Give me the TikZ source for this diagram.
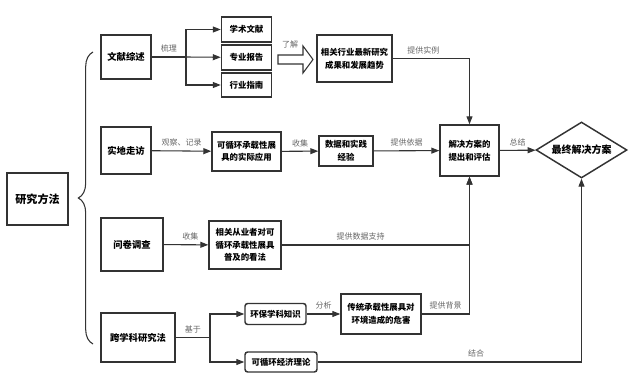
\documentclass[tikz,border=0pt]{standalone}
\usepackage{fontspec}
\setmainfont{Noto Sans CJK SC}
\usetikzlibrary{arrows.meta,shapes.geometric,decorations.pathreplacing}
\newlength\pxu
\setlength\pxu{0.75pt}
\definecolor{linegray}{HTML}{333333}
\definecolor{labgray}{HTML}{666666}
\tikzset{
  box/.style={draw=linegray, line width=1.1pt, align=center, inner sep=1pt,
    font=\bfseries\fontsize{6.3}{9.5}\selectfont},
  mainbox/.style={box, font=\bfseries\fontsize{7}{9}\selectfont},
  roundbox/.style={box, rounded corners=2pt},
  conn/.style={draw=linegray, line width=0.8pt},
  arr/.style={conn, -{Triangle[length=6pt,width=4.5pt]}},
  lab/.style={text=labgray, font=\fontsize{6}{7}\selectfont, inner sep=3pt},
}
\begin{document}
\begin{tikzpicture}[x=0.75pt,y=-0.75pt]
\useasboundingbox (0,0) rectangle (630,384);

% methods
\node[mainbox, font=\bfseries\fontsize{8.3}{10}\selectfont, minimum width=61\pxu, minimum height=52\pxu] (method) at (37.5,199) {研究方法};
\draw[conn, decorate, decoration={brace, amplitude=11pt}] (93,344) -- (93,52);

\node[mainbox, minimum width=50\pxu, minimum height=44\pxu] (lit) at (126,57) {文献综述};
\node[mainbox, minimum width=50\pxu, minimum height=47\pxu] (field) at (126,150.5) {实地走访};
\node[mainbox, minimum width=62\pxu, minimum height=53\pxu] (survey) at (132,244.5) {问卷调查};
\node[mainbox, minimum width=74\pxu, minimum height=49\pxu] (cross) at (138,337.5) {跨学科研究法};

% results
\node[box, minimum width=50\pxu, minimum height=25\pxu] (acad) at (246.5,29.5) {学术文献};
\node[box, minimum width=50\pxu, minimum height=25\pxu] (report) at (246.5,57.5) {专业报告};
\node[box, minimum width=50\pxu, minimum height=24\pxu] (guide) at (246.5,85) {行业指南};
\node[box, minimum width=75\pxu, minimum height=47\pxu] (trend) at (354.5,58.5) {相关行业最新研究\\成果和发展趋势};
\node[box, minimum width=69\pxu, minimum height=39\pxu] (usage) at (246.5,151.5) {可循环承载性展\\具的实际应用};
\node[box, minimum width=54\pxu, minimum height=30\pxu] (data) at (346,151) {数据和实践\\经验};
\node[box, minimum width=59\pxu, minimum height=51\pxu] (plan) at (469.5,150.5) {解决方案的\\提出和评估};
\node[diamond, draw=linegray, line width=1.1pt, aspect=1.625, minimum width=91\pxu, minimum height=56\pxu, inner sep=0pt,
  font=\bfseries\fontsize{7.5}{9}\selectfont] (final) at (581.5,150) {最终解决方案};
\node[box, minimum width=72\pxu, minimum height=48\pxu] (opinion) at (245,245) {相关从业者对可\\循环承载性展具\\普及的看法};
\node[roundbox, minimum width=61\pxu, minimum height=21\pxu] (envk) at (275.5,314) {环保学科知识};
\node[roundbox, minimum width=72\pxu, minimum height=20\pxu] (circ) at (281,362) {可循环经济理论};
\node[box, minimum width=80\pxu, minimum height=40\pxu] (harm) at (381,314) {传统承载性展具对\\环境造成的危害};

% connectors
\coordinate (litfork) at (186,57);
\draw[conn] (lit) -- node[lab, above] {梳理} (litfork);
\draw[arr] (litfork) |- (acad);
\draw[arr] (litfork) -- (report);
\draw[arr] (litfork) |- (guide);

\draw[conn] (278,55) -- (303,55) -- (303,46) -- (313,59.5) -- (303,73) -- (303,64) -- (278,64) -- cycle;
\node[lab] (know) at (290,44) {了解};

\draw[arr] (trend) -| node[lab, above, pos=0.2] {提供实例} (plan);
\draw[arr] (field) -- node[lab, above] {观察、记录} (usage);
\draw[arr] (usage) -- node[lab, above] {收集} (data);
\draw[arr] (data) -- node[lab, above] {提供依据} (plan);
\draw[arr] (plan) -- node[lab, above] {总结} (final);
\draw[arr] (survey) -- node[lab, above, pos=0.6] {收集} (opinion);
\draw[arr] (opinion) -| node[lab, above, pos=0.21] {提供数据支持} (plan);

\coordinate (crossfork) at (210,337.5);
\draw[conn] (cross) -- node[lab, above] {基于} (crossfork);
\draw[arr] (crossfork) |- (envk);
\draw[arr] (crossfork) |- (circ);
\draw[arr] (envk) -- node[lab, above] {分析} (harm);
\draw[arr] (harm) -| node[lab, above, pos=0.25] {提供背景} (plan);
\draw[arr] (circ) -| node[lab, above, pos=0.3] {结合} (final);
\end{tikzpicture}
\end{document}
